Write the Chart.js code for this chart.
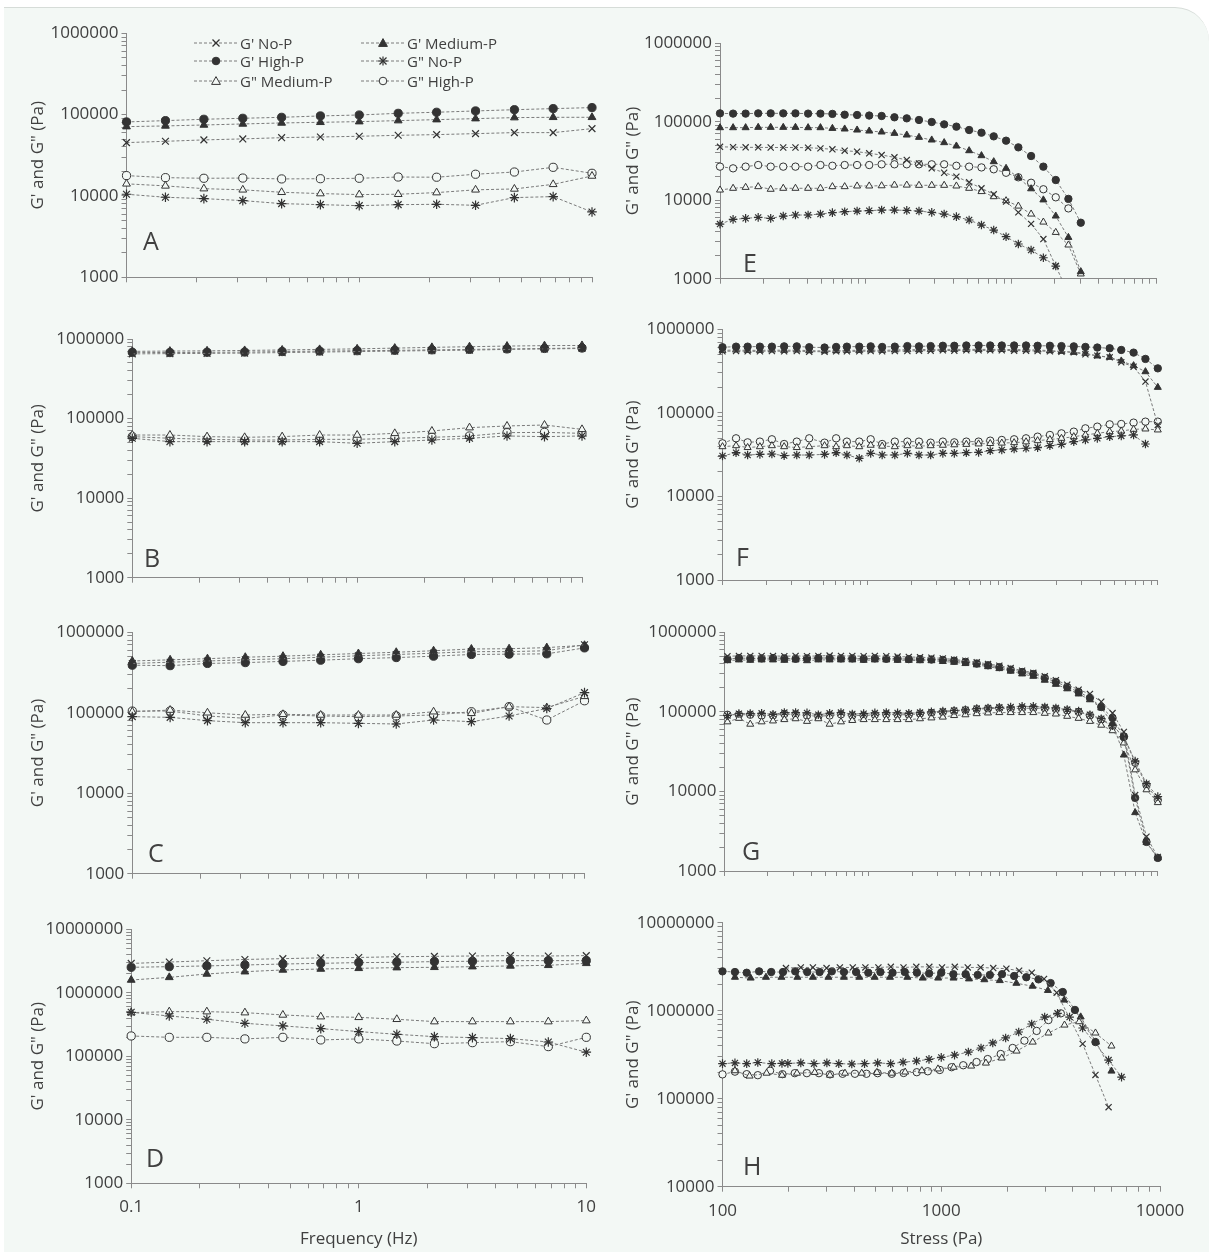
<!DOCTYPE html>
<html lang="en">
<head>
<meta charset="UTF-8">
<title>G' and G" vs frequency and stress</title>
<script src="https://cdn.jsdelivr.net/npm/chart.js@4.4.1/dist/chart.umd.min.js"></script>
<style>
  body { margin: 0; background: #ffffff; font-family: "Open Sans", Arial, sans-serif; }
  .card {
    position: absolute; left: 4px; top: 7px; width: 1205px; height: 1245px;
    background: #f3f8f5; border-top: 1px solid #d6dcd8; border-top-right-radius: 34px;
  }
  .panel { position: absolute; }
  .letter { position: absolute; font-size: 25px; line-height: 25px; color: #404040; }
  .legend-item { position: absolute; height: 18px; display: flex; align-items: center; white-space: nowrap;
                 font-size: 15px; color: #404040; }
  .legend-item svg { display: block; margin-right: 2px; }
</style>
</head>
<body>
<div class="card"></div>
<div id="root"></div>

<script>
// ---- x values ----
const freq = [0.1, 0.147, 0.215, 0.316, 0.464, 0.681, 1, 1.47, 2.15, 3.16, 4.64, 6.81, 10];
const stressE = [10, 12.3, 15.0, 18.3, 22.3, 27.2, 33.0, 40.3, 49.0, 59.2, 71.9, 87.5, 106, 129, 158, 192, 233, 285, 347, 421, 515, 626, 760, 924, 1122, 1373, 1667, 2028, 2477, 3013];
const stressF = [10, 12.4, 14.9, 18.1, 21.9, 26.6, 32.5, 39.6, 50.5, 60.7, 72, 87.6, 105, 126, 154, 188, 226, 272, 330, 396, 479, 582, 700, 841, 1023, 1236, 1485, 1804, 2168, 2636, 3170, 3830, 4660, 5600, 6810, 8220, 10000];
const stressG = [10.5, 12.6, 15.1, 18.1, 21.7, 26.0, 31.1, 37.3, 44.7, 53.5, 64.1, 76.8, 92, 110, 132, 158, 189, 226, 271, 325, 389, 466, 558, 668, 800, 958, 1150, 1375, 1650, 1970, 2360, 2830, 3390, 4060, 4860, 5820, 6970, 8350, 10000];

// ---- tick labels ----
const freqTicks = [0.1, 1, 10];
const stressTicks = [100, 1000, 10000];
const modTicks = [1000, 10000, 100000, 1000000];
const modTicksD = [1000, 10000, 100000, 1000000, 10000000];
const modTicksH = [10000, 100000, 1000000, 10000000];

// ---- panel A ----
const A_gpNo = [45300, 47000, 48900, 50300, 52100, 53100, 54200, 55700, 56800, 58400, 60100, 60100, 67300];
const A_gpMed = [71200, 72600, 74600, 76800, 79000, 80500, 82000, 84400, 86800, 89300, 91900, 92700, 92700];
const A_gpHigh = [81300, 84400, 87700, 90200, 92700, 96400, 99000, 103800, 107000, 111000, 115000, 118600, 122000];
const A_gppNo = [10500, 9640, 9280, 8770, 8050, 7820, 7600, 7820, 7900, 7680, 9550, 9820, 6360];
const A_gppMed = [14100, 13300, 12300, 11900, 11100, 10700, 10400, 10500, 11000, 11900, 12200, 13900, 17600];
const A_gppHigh = [17800, 16800, 16500, 16600, 16200, 16300, 16500, 17100, 17000, 18500, 19700, 22500, 19000];

// ---- panel B ----
const B_gpNo = [650000, 655000, 660000, 665000, 675000, 685000, 695000, 705000, 715000, 725000, 740000, 750000, 760000];
const B_gpMed = [700000, 705000, 710000, 718000, 728000, 740000, 752000, 768000, 785000, 800000, 815000, 825000, 830000];
const B_gpHigh = [680000, 675000, 680000, 685000, 695000, 705000, 712000, 720000, 730000, 740000, 750000, 760000, 770000];
const B_gppNo = [56500, 51300, 51300, 51300, 51300, 51300, 48900, 51300, 53800, 56500, 60400, 59300, 60400];
const B_gppMed = [62100, 62100, 59300, 58100, 59300, 62100, 62100, 65200, 69800, 76900, 80700, 83000, 73200];
const B_gppHigh = [59300, 56500, 54800, 53800, 53800, 54800, 54800, 56500, 58100, 60400, 66500, 67100, 65200];

// ---- panel C ----
const C_gpNo = [410000, 425000, 440000, 455000, 470000, 490000, 510000, 530000, 550000, 575000, 575000, 590000, 700000];
const C_gpMed = [440000, 455000, 470000, 490000, 505000, 525000, 545000, 565000, 590000, 620000, 625000, 645000, 690000];
const C_gpHigh = [390000, 385000, 410000, 420000, 435000, 450000, 470000, 485000, 505000, 530000, 535000, 540000, 640000];
const C_gppNo = [89500, 87700, 79800, 75300, 75300, 75300, 73900, 72500, 81300, 77500, 91200, 113000, 178000];
const C_gppMed = [103000, 108000, 100000, 93800, 95700, 93800, 93800, 93800, 103000, 98400, 119000, 116000, 160000];
const C_gppHigh = [105000, 105000, 91200, 85300, 93800, 91200, 89500, 91200, 93800, 103000, 119000, 81300, 141000];

// ---- panel D ----
const D_gpNo = [2900000, 3050000, 3200000, 3350000, 3450000, 3550000, 3600000, 3700000, 3750000, 3800000, 3850000, 3800000, 3850000];
const D_gpMed = [1590000, 1750000, 1980000, 2150000, 2290000, 2370000, 2430000, 2490000, 2520000, 2580000, 2650000, 2710000, 2910000];
const D_gpHigh = [2520000, 2580000, 2650000, 2740000, 2840000, 2910000, 2990000, 3020000, 3100000, 3140000, 3210000, 3210000, 3210000];
const D_gppNo = [493000, 431000, 383000, 331000, 301000, 273000, 245000, 222000, 204000, 197000, 190000, 168000, 116000];
const D_gppMed = [487000, 505000, 505000, 487000, 448000, 421000, 411000, 383000, 352000, 352000, 352000, 352000, 365000];
const D_gppHigh = [209000, 199000, 199000, 188000, 199000, 181000, 188000, 174000, 158000, 164000, 170000, 142000, 199000];

// ---- panel E ----
const E_gpNo = [48000, 47500, 47200, 47200, 47000, 47000, 47000, 46700, 45800, 44600, 42800, 41600, 39600, 37700, 35200, 32600, 29500, 25500, 22400, 20000, 16900, 14200, 11900, 9600, 7000, 5000, 3200, 1450, 650];
const E_gpMed = [84100, 84100, 84100, 84900, 84900, 84900, 84900, 84100, 84100, 82400, 80900, 78500, 76200, 74100, 71200, 67800, 63300, 58600, 54200, 49100, 42800, 37000, 31000, 25500, 19400, 14000, 10100, 6290, 3360, 1230];
const E_gpHigh = [128000, 127000, 127000, 128000, 128000, 128000, 128000, 127000, 127000, 126000, 123000, 122000, 120000, 118500, 114000, 110600, 105400, 99300, 92700, 86700, 78500, 72600, 65200, 57400, 47200, 36600, 26800, 18100, 10400, 5170];
const E_gppNo = [4970, 5700, 5870, 6050, 5870, 6290, 6480, 6480, 6670, 6940, 7140, 7280, 7360, 7500, 7500, 7420, 7280, 7000, 6670, 6170, 5600, 4830, 4170, 3430, 2770, 2320, 1850, 1450];
const E_gppMed = [13500, 14200, 14600, 14900, 13800, 14200, 14200, 14200, 14200, 14900, 14900, 15200, 15200, 15300, 15600, 15600, 15500, 15500, 15500, 15200, 14200, 12900, 11100, 9860, 8430, 6670, 5270, 3890, 2690, 1150];
const E_gppHigh = [26800, 25500, 26800, 28100, 26800, 26800, 26800, 26800, 28100, 27500, 28100, 28100, 28100, 28700, 28700, 28700, 28700, 28700, 28700, 27500, 26800, 26200, 24800, 22400, 19600, 16700, 13800, 10900, 7870];

// ---- panel F ----
const F_gpNo = [545000, 550000, 545000, 545000, 550000, 545000, 550000, 540000, 540000, 545000, 545000, 545000, 550000, 545000, 550000, 550000, 555000, 555000, 560000, 555000, 560000, 560000, 560000, 560000, 555000, 555000, 550000, 545000, 540000, 531000, 502000, 484000, 462000, 403000, 357000, 237000, 71600];
const F_gpMed = [560000, 565000, 560000, 560000, 565000, 560000, 565000, 555000, 550000, 555000, 560000, 560000, 565000, 560000, 565000, 570000, 570000, 575000, 575000, 575000, 575000, 575000, 575000, 575000, 570000, 570000, 565000, 555000, 545000, 530000, 516000, 480000, 462000, 418000, 367000, 311000, 202000];
const F_gpHigh = [610000, 620000, 620000, 620000, 620000, 625000, 625000, 610000, 605000, 615000, 620000, 620000, 625000, 615000, 620000, 630000, 625000, 630000, 635000, 635000, 640000, 640000, 640000, 640000, 640000, 640000, 635000, 635000, 630000, 625000, 615000, 605000, 593000, 566000, 526000, 442000, 341000];
const F_gppNo = [30500, 33400, 31300, 31900, 32200, 30800, 31300, 31300, 31900, 33400, 31300, 28600, 32800, 31300, 31300, 32800, 31300, 31300, 32800, 32800, 33400, 33700, 35300, 36000, 37000, 37700, 38400, 40600, 42000, 45300, 47400, 49600, 51900, 53000, 54400, 42400];
const F_gppMed = [39400, 40500, 38500, 39400, 40500, 39400, 38500, 39400, 40500, 39400, 40500, 39400, 41000, 40000, 39400, 40500, 40000, 40500, 41000, 41500, 42000, 42500, 43000, 43500, 44000, 45000, 46500, 48000, 49600, 51900, 54400, 56900, 59600, 60700, 63600, 64200, 62500];
const F_gppHigh = [43200, 49600, 44400, 45300, 48300, 42400, 45300, 49600, 44000, 49600, 45300, 45300, 48300, 42400, 45300, 45300, 45300, 44000, 45300, 44400, 45300, 45300, 46500, 47400, 48300, 49600, 51900, 54400, 56900, 59600, 65300, 68400, 72900, 73600, 76400, 78500, 78500];

// ---- panel G ----
const G_gpNo = [500000, 505000, 505000, 505000, 505000, 500000, 505000, 500000, 505000, 510000, 505000, 505000, 500000, 505000, 500000, 495000, 490000, 485000, 480000, 470000, 455000, 440000, 420000, 400000, 380000, 355000, 330000, 310000, 280000, 250000, 220000, 190000, 168000, 134000, 96600, 56000, 9000, 2700, 1500];
const G_gpMed = [440000, 450000, 445000, 450000, 450000, 445000, 450000, 440000, 450000, 450000, 450000, 450000, 445000, 450000, 450000, 445000, 445000, 440000, 440000, 430000, 420000, 405000, 390000, 370000, 350000, 325000, 300000, 280000, 250000, 222000, 195000, 168000, 142000, 112000, 72000, 28700, 5420, 2280, 1460];
const G_gpHigh = [460000, 475000, 470000, 470000, 475000, 470000, 465000, 470000, 475000, 475000, 470000, 470000, 465000, 470000, 465000, 465000, 460000, 460000, 455000, 450000, 440000, 425000, 405000, 385000, 365000, 340000, 317000, 299000, 267000, 238000, 206000, 178000, 150000, 115000, 83900, 48400, 8300, 2320, 1460];
const G_gppNo = [90000, 95000, 95000, 96000, 93000, 98000, 98000, 97000, 92000, 96000, 98000, 94000, 95000, 97000, 98000, 97000, 96000, 98000, 100000, 102000, 104000, 106000, 110000, 112000, 114000, 115000, 117000, 117000, 115000, 112000, 107000, 102000, 92000, 82000, 67000, 49000, 24000, 12500, 8600];
const G_gppMed = [75000, 83000, 70000, 75000, 77000, 80000, 82000, 76000, 82000, 70000, 75000, 78000, 80000, 80000, 80000, 80000, 80000, 82000, 84000, 86000, 90000, 92000, 95000, 97000, 98000, 98000, 98000, 98000, 96000, 94000, 88000, 83000, 76000, 68000, 58000, 40700, 18700, 10500, 7240];
const G_gppHigh = [92000, 92000, 92000, 90000, 90000, 94000, 93000, 90000, 88000, 90000, 93000, 90000, 90000, 92000, 93000, 92000, 92000, 95000, 97000, 99000, 102000, 105000, 108000, 110000, 111000, 109000, 111000, 111000, 111000, 108000, 104000, 100000, 90000, 80000, 66000, 48800, 23000, 12000, 7800];

// ---- panel H (each series has its own stress points) ----
const H_x_gpNo = [195, 228, 259, 299, 344, 394, 450, 516, 588, 672, 769, 882, 1008, 1153, 1322, 1513, 1729, 1985, 2270, 2594, 2951, 3370, 4430, 5070, 5820];
const H_gpNo = [3050000, 3100000, 3100000, 3050000, 3100000, 3100000, 3100000, 3100000, 3150000, 3100000, 3150000, 3150000, 3100000, 3150000, 3100000, 3100000, 3050000, 3000000, 2850000, 2700000, 2300000, 1600000, 420000, 186000, 80000];
const H_x_gpMed = [114, 134.5, 158, 186, 220, 259, 305, 359, 422, 496, 583, 700, 823, 968, 1138, 1339, 1574, 1852, 2205, 2614, 3073, 3648, 4339, 5105, 6000];
const H_gpMed = [2400000, 2350000, 2400000, 2400000, 2400000, 2400000, 2400000, 2400000, 2400000, 2400000, 2400000, 2400000, 2350000, 2350000, 2350000, 2300000, 2250000, 2200000, 2050000, 1900000, 1700000, 1320000, 850000, 440000, 206000];
const H_x_gpHigh = [100, 114, 129, 147, 167, 189, 215, 244, 278, 316, 359, 408, 464, 527, 599, 681, 774, 880, 1000, 1136, 1292, 1468, 1668, 1896, 2154, 2448, 2783, 3162, 3594, 4084, 5070];
const H_gpHigh = [2800000, 2750000, 2700000, 2800000, 2750000, 2750000, 2800000, 2750000, 2750000, 2800000, 2750000, 2750000, 2700000, 2750000, 2700000, 2750000, 2700000, 2650000, 2700000, 2600000, 2600000, 2550000, 2550000, 2600000, 2480000, 2400000, 2270000, 2060000, 1630000, 1020000, 440000];
const H_x_gppNo = [100, 114, 129, 145, 168, 187, 199, 228, 262, 300, 340, 390, 446, 512, 587, 669, 771, 879, 1000, 1150, 1330, 1520, 1720, 1970, 2260, 2590, 2970, 3400, 3860, 4430, 5820, 6670];
const H_gppNo = [250000, 255000, 250000, 258000, 250000, 252000, 252000, 255000, 250000, 255000, 250000, 248000, 250000, 255000, 250000, 260000, 268000, 280000, 295000, 313000, 339000, 377000, 430000, 490000, 573000, 706000, 847000, 933000, 847000, 636000, 275000, 176000];
const H_x_gppMed = [114, 133, 159, 187, 219, 264, 310, 363, 433, 508, 594, 684, 815, 966, 1140, 1370, 1600, 1890, 2210, 2620, 3090, 3660, 4270, 5070, 6000];
const H_gppMed = [208000, 181000, 195000, 185000, 195000, 199000, 185000, 195000, 195000, 199000, 195000, 201000, 208000, 218000, 228000, 235000, 254000, 290000, 348000, 440000, 558000, 687000, 750000, 558000, 397000];
const H_x_gppHigh = [100, 114, 129, 145, 165, 188, 214, 243, 276, 310, 354, 403, 455, 512, 594, 673, 773, 868, 985, 1115, 1260, 1450, 1630, 1870, 2120, 2400, 2730, 3090, 3520];
const H_gppHigh = [189000, 203000, 190000, 185000, 208000, 190000, 195000, 195000, 195000, 189000, 192000, 192000, 192000, 195000, 192000, 196000, 200000, 205000, 212000, 228000, 240000, 261000, 282000, 322000, 377000, 457000, 589000, 783000, 933000];

// ---- styles ----
const INK = '#333333';
const BG = '#f3f8f5';
const LINE = '#7a7a7a';
const AXIS = '#8a8a8a';
const TEXT = '#404040';

Chart.defaults.font.family = '"Open Sans", Arial, sans-serif';
Chart.defaults.color = TEXT;

const series = {
    gpNo:    { label: "G' No-P",     shape: 'crossRot', r: 4.8, filled: false },
    gpMed:   { label: "G' Medium-P", shape: 'triangle', r: 4.5, filled: true },
    gpHigh:  { label: "G' High-P",   shape: 'circle',   r: 4.1, filled: true },
    gppNo:   { label: 'G" No-P',     shape: 'star',     r: 4.8, filled: false },
    gppMed:  { label: 'G" Medium-P', shape: 'triangle', r: 4.5, filled: false },
    gppHigh: { label: 'G" High-P',   shape: 'circle',   r: 4.1, filled: false }
};
const order = ['gpNo', 'gpHigh', 'gpMed', 'gppNo', 'gppMed', 'gppHigh'];

function pairs(xs, ys) {
    return ys.map((y, i) => ({ x: xs[i], y: y }));
}

// box = [left, top, width, height] of the canvas, plot = [left, top, right, bottom] of the plot area
const panels = [
    { letter: 'A', lpos: [143, 228], box: [0, 10, 605, 290], plot: [126.5, 33.3, 592, 277.3], mk: 1,
      xr: [0.1, 10], yr: [1e3, 1e6], yLab: modTicks, xLab: null, xTitle: '',
      data: { gpNo: [freq, A_gpNo], gpMed: [freq, A_gpMed], gpHigh: [freq, A_gpHigh],
              gppNo: [freq, A_gppNo], gppMed: [freq, A_gppMed], gppHigh: [freq, A_gppHigh] } },
    { letter: 'B', lpos: [144, 545], box: [0, 310, 605, 285], plot: [132.3, 339, 582, 577.7], mk: 1,
      xr: [0.1, 10], yr: [1e3, 1e6], yLab: modTicks, xLab: null, xTitle: '',
      data: { gpNo: [freq, B_gpNo], gpMed: [freq, B_gpMed], gpHigh: [freq, B_gpHigh],
              gppNo: [freq, B_gppNo], gppMed: [freq, B_gppMed], gppHigh: [freq, B_gppHigh] } },
    { letter: 'C', lpos: [148, 840], box: [0, 605, 605, 285], plot: [132.3, 632.3, 584.5, 873.7], mk: 1,
      xr: [0.1, 10], yr: [1e3, 1e6], yLab: modTicks, xLab: null, xTitle: '',
      data: { gpNo: [freq, C_gpNo], gpMed: [freq, C_gpMed], gpHigh: [freq, C_gpHigh],
              gppNo: [freq, C_gppNo], gppMed: [freq, C_gppMed], gppHigh: [freq, C_gppHigh] } },
    { letter: 'D', lpos: [146, 1145], box: [0, 900, 605, 352], plot: [131.2, 929.3, 589, 1183.3], mk: 1,
      xr: [0.1, 10], yr: [1e3, 1e7], yLab: modTicksD, xLab: freqTicks, xTitle: 'Frequency (Hz)',
      data: { gpNo: [freq, D_gpNo], gpMed: [freq, D_gpMed], gpHigh: [freq, D_gpHigh],
              gppNo: [freq, D_gppNo], gppMed: [freq, D_gppMed], gppHigh: [freq, D_gppHigh] } },
    { letter: 'E', lpos: [743, 250], box: [605, 10, 604, 290], plot: [720, 43.3, 1156.6, 278.7], mk: 0.9,
      xr: [10, 10000], yr: [1e3, 1e6], yLab: modTicks, xLab: null, xTitle: '',
      data: { gpNo: [stressE, E_gpNo], gpMed: [stressE, E_gpMed], gpHigh: [stressE, E_gpHigh],
              gppNo: [stressE, E_gppNo], gppMed: [stressE, E_gppMed], gppHigh: [stressE, E_gppHigh] } },
    { letter: 'F', lpos: [736, 544], box: [605, 305, 604, 290], plot: [722.5, 329.3, 1157.8, 580], mk: 0.9,
      xr: [10, 10000], yr: [1e3, 1e6], yLab: modTicks, xLab: null, xTitle: '',
      data: { gpNo: [stressF, F_gpNo], gpMed: [stressF, F_gpMed], gpHigh: [stressF, F_gpHigh],
              gppNo: [stressF, F_gppNo], gppMed: [stressF, F_gppMed], gppHigh: [stressF, F_gppHigh] } },
    { letter: 'G', lpos: [742, 838], box: [605, 605, 604, 285], plot: [724.4, 632.3, 1157.8, 871], mk: 0.9,
      xr: [10, 10000], yr: [1e3, 1e6], yLab: modTicks, xLab: null, xTitle: '',
      data: { gpNo: [stressG, G_gpNo], gpMed: [stressG, G_gpMed], gpHigh: [stressG, G_gpHigh],
              gppNo: [stressG, G_gppNo], gppMed: [stressG, G_gppMed], gppHigh: [stressG, G_gppHigh] } },
    { letter: 'H', lpos: [743, 1153], box: [605, 900, 604, 352], plot: [722.5, 922.7, 1160, 1186.7], mk: 0.9,
      xr: [100, 10000], yr: [1e4, 1e7], yLab: modTicksH, xLab: stressTicks, xTitle: 'Stress (Pa)',
      data: { gpNo: [H_x_gpNo, H_gpNo], gpMed: [H_x_gpMed, H_gpMed], gpHigh: [H_x_gpHigh, H_gpHigh],
              gppNo: [H_x_gppNo, H_gppNo], gppMed: [H_x_gppMed, H_gppMed], gppHigh: [H_x_gppHigh, H_gppHigh] } }
];

// 1..9 x 10^n tick positions between min and max (for the small tick marks)
function decadeTicks(min, max) {
    const out = [];
    for (let e = Math.floor(Math.log10(min)); e <= Math.ceil(Math.log10(max)); e++) {
        for (let m = 1; m <= 9; m++) {
            const v = parseFloat((m * Math.pow(10, e)).toPrecision(6));
            if (v >= min * 0.9999 && v <= max * 1.0001) out.push(v);
        }
    }
    return out;
}

function axis(p, isX) {
    const range = isX ? p.xr : p.yr;
    const labels = isX ? p.xLab : p.yLab;
    return {
        type: 'logarithmic',
        position: isX ? 'bottom' : 'left',
        min: range[0],
        max: range[1],
        afterBuildTicks: s => { s.ticks = decadeTicks(range[0], range[1]).map(v => ({ value: v })); },
        afterFit: s => {
            if (isX) s.height = (p.box[1] + p.box[3]) - p.plot[3];
            else s.width = p.plot[0] - p.box[0];
        },
        ticks: {
            autoSkip: false,
            maxRotation: 0,
            padding: isX ? 9 : 3,
            color: TEXT,
            font: { size: 17 },
            callback: v => (labels && labels.includes(v)) ? String(v) : ''
        },
        grid: { drawOnChartArea: false, drawTicks: true, tickLength: 5, color: AXIS },
        border: { color: AXIS, width: 1 },
        title: isX
            ? { display: !!p.xTitle, text: p.xTitle, color: TEXT, font: { size: 17 }, padding: { top: 0, bottom: 3 } }
            : { display: true, text: 'G\' and G" (Pa)', color: TEXT, font: { size: 17 },
                padding: { top: p.box[0] === 0 ? 28 : 18, bottom: 0 } }
    };
}

const root = document.getElementById('root');

panels.forEach(p => {
    const div = document.createElement('div');
    div.className = 'panel';
    div.style.left = p.box[0] + 'px';
    div.style.top = p.box[1] + 'px';
    div.style.width = p.box[2] + 'px';
    div.style.height = p.box[3] + 'px';
    const canvas = document.createElement('canvas');
    canvas.width = p.box[2];
    canvas.height = p.box[3];
    div.appendChild(canvas);
    root.appendChild(div);

    const datasets = order.map(key => {
        const s = series[key];
        const [xs, ys] = p.data[key];
        return {
            label: s.label,
            data: pairs(xs, ys),
            borderColor: LINE,
            borderWidth: 1,
            borderDash: [3, 2],
            pointStyle: s.shape,
            pointRadius: s.r * p.mk,
            pointBorderColor: INK,
            pointBackgroundColor: s.filled ? INK : BG,
            pointBorderWidth: (s.shape === 'crossRot' || s.shape === 'star') ? 1.2 : 1,
            tension: 0,
            clip: { left: 10, top: 10, right: 10, bottom: 0 }
        };
    });

    new Chart(canvas, {
        type: 'line',
        data: { datasets: datasets },
        options: {
            responsive: false,
            animation: false,
            devicePixelRatio: 1,
            layout: { padding: { top: p.plot[1] - p.box[1], right: (p.box[0] + p.box[2]) - p.plot[2], bottom: 0, left: 0 } },
            plugins: { legend: { display: false }, tooltip: { enabled: false } },
            scales: { x: axis(p, true), y: axis(p, false) }
        }
    });

    const l = document.createElement('div');
    l.className = 'letter';
    l.textContent = p.letter;
    l.style.left = p.lpos[0] + 'px';
    l.style.top = p.lpos[1] + 'px';
    root.appendChild(l);
});

// legend inside panel A
function markerSvg(key) {
    const s = series[key];
    let m = '';
    const st = 'stroke="' + INK + '" stroke-width="1.2"';
    if (s.shape === 'crossRot') {
        m = '<line x1="18.5" y1="5.5" x2="25.5" y2="12.5" ' + st + '/><line x1="25.5" y1="5.5" x2="18.5" y2="12.5" ' + st + '/>';
    } else if (s.shape === 'star') {
        m = '<line x1="18.5" y1="5.5" x2="25.5" y2="12.5" ' + st + '/><line x1="25.5" y1="5.5" x2="18.5" y2="12.5" ' + st + '/>' +
            '<line x1="22" y1="4.5" x2="22" y2="13.5" ' + st + '/><line x1="17.5" y1="9" x2="26.5" y2="9" ' + st + '/>';
    } else if (s.shape === 'circle') {
        m = '<circle cx="22" cy="9" r="3.8" fill="' + (s.filled ? INK : BG) + '" stroke="' + INK + '" stroke-width="1"/>';
    } else {
        m = '<polygon points="22,4.6 26.4,12.4 17.6,12.4" fill="' + (s.filled ? INK : BG) + '" stroke="' + INK + '" stroke-width="1"/>';
    }
    return '<svg width="44" height="18" viewBox="0 0 44 18">' +
        '<line x1="0" y1="9" x2="44" y2="9" stroke="' + LINE + '" stroke-width="1" stroke-dasharray="3 2"/>' + m + '</svg>';
}

const legendItems = [
    { key: 'gpNo', x: 194, y: 42.5 }, { key: 'gpMed', x: 361, y: 42.5 },
    { key: 'gpHigh', x: 194, y: 61 }, { key: 'gppNo', x: 361, y: 61 },
    { key: 'gppMed', x: 194, y: 80.5 }, { key: 'gppHigh', x: 361, y: 80.5 }
];
legendItems.forEach(it => {
    const d = document.createElement('div');
    d.className = 'legend-item';
    d.style.left = it.x + 'px';
    d.style.top = (it.y - 9) + 'px';
    d.innerHTML = markerSvg(it.key);
    const t = document.createElement('span');
    t.textContent = series[it.key].label;
    d.appendChild(t);
    root.appendChild(d);
});
</script>
</body>
</html>
